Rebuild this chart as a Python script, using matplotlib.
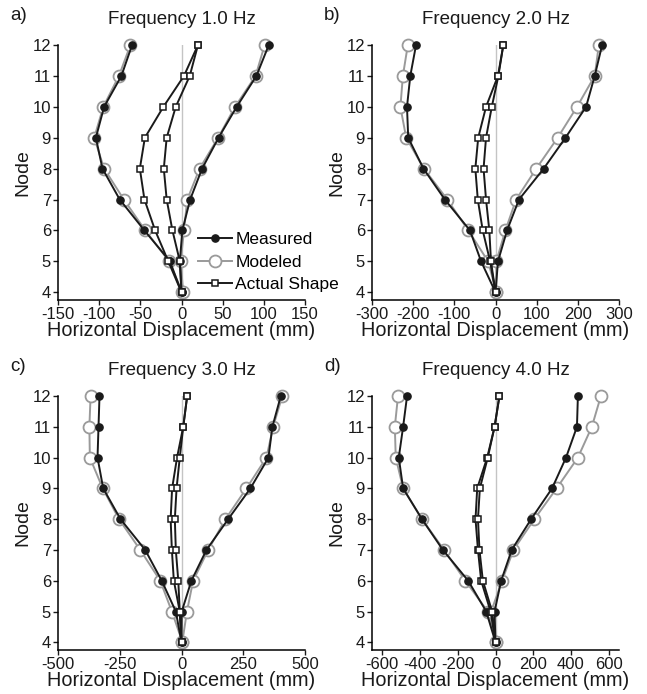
import numpy as np
import matplotlib.pyplot as plt
from matplotlib.lines import Line2D

plt.rcParams['font.family'] = ['Liberation Sans', 'DejaVu Sans']
plt.rcParams['axes.unicode_minus'] = False

# nodes from bottom (4) to top (12)
nodes = [4, 5, 6, 7, 8, 9, 10, 11, 12]

titles = ["Frequency 1.0 Hz", "Frequency 2.0 Hz", "Frequency 3.0 Hz", "Frequency 4.0 Hz"]
letters = ["a)", "b)", "c)", "d)"]

# panel a (1.0 Hz)
meas_a_left = [0, -14, -45, -75, -96, -104, -94, -73, -60]
mod_a_left = [1, -15, -44, -70, -94, -106, -95, -76, -62]
meas_a_right = [0, -2, 1, 10.5, 25, 45, 67, 91, 106]
mod_a_right = [2, -1, 3, 7, 22, 44.5, 65, 90, 101]
act_a_1 = [0, -16, -32, -45, -50.6, -44.5, -22, 3, 20]
act_a_2 = [0, -2, -11, -18, -21.5, -18, -7, 10, 20]

# panel b (2.0 Hz)
meas_b_left = [0, -35, -62, -123, -175, -212, -215, -207, -193]
mod_b_left = [2, -18, -66, -117, -174, -217, -231, -225, -213]
meas_b_right = [0, 6, 28, 57, 117, 170, 220, 241, 259]
mod_b_right = [2, 2, 24, 50, 99, 151, 198, 241, 251]
act_b_1 = [0, -13, -31, -43, -49, -42, -23, 6, 19]
act_b_2 = [0, -11, -15, -23, -29, -23, -9, 7, 19]

# panel c (3.0 Hz)
meas_c_left = [0, -23, -80, -147, -247, -317, -340, -336, -332]
mod_c_left = [4, -39, -86, -167, -253, -319, -371, -373, -368]
meas_c_right = [0, 1, 40, 101, 189, 279, 352, 368, 402]
mod_c_right = [3, 22, 47, 108, 178, 263, 344, 371, 408]
act_c_1 = [0, -7, -31, -39, -44, -38, -18, 7, 23]
act_c_2 = [0, -7, -13, -23, -27, -20, -7, 7, 23]

# panel d (4.0 Hz)
meas_d_left = [0, -49, -145, -279, -390, -490, -513, -490, -469]
mod_d_left = [3, -41, -160, -273, -390, -490, -529, -534, -517]
meas_d_right = [0, -5, 30, 86, 189, 300, 374, 432, 437]
mod_d_right = [3, -23, 35, 95, 206, 324, 437, 511, 559]
act_d_1 = [0, -26, -76, -93, -106, -97, -44, -5, 21]
act_d_2 = [0, -18, -67, -85, -93, -83, -41, -5, 21]

panels = [
    (meas_a_left, meas_a_right, mod_a_left, mod_a_right, act_a_1, act_a_2),
    (meas_b_left, meas_b_right, mod_b_left, mod_b_right, act_b_1, act_b_2),
    (meas_c_left, meas_c_right, mod_c_left, mod_c_right, act_c_1, act_c_2),
    (meas_d_left, meas_d_right, mod_d_left, mod_d_right, act_d_1, act_d_2),
]

xticks = [
    [-150, -100, -50, 0, 50, 100, 150],
    [-300, -200, -100, 0, 100, 200, 300],
    [-500, -250, 0, 250, 500],
    [-600, -400, -200, 0, 200, 400, 600],
]
xlims = [(-150, 150), (-300, 300), (-500, 500), (-655, 655)]

W, H = 647, 694
fig = plt.figure(figsize=(W / 100, H / 100), dpi=100)

# axes boxes in pixels: left, top, right, bottom
boxes = [(58, 45, 305, 300), (372, 45, 619, 300),
         (58, 396, 305, 650), (372, 396, 619, 650)]

blk = '#1a1a1a'
gry = '#9a9a9a'

for i, (box, data) in enumerate(zip(boxes, panels)):
    l, t, r, b = box
    ax = fig.add_axes([l / W, 1 - b / H, (r - l) / W, (b - t) / H])
    meas_l, meas_r, mod_l, mod_r, act1, act2 = data

    ax.plot([0, 0], [4, 12], color='#c4c4c4', lw=1.0, zorder=1)

    for m in (mod_l, mod_r):
        ax.plot(m, nodes, color=gry, lw=1.4, marker='o', ms=8.6,
                mfc='white', mec=gry, mew=1.3, zorder=2, clip_on=False)
    for m in (meas_l, meas_r):
        ax.plot(m, nodes, color=blk, lw=1.4, marker='o', ms=5.2,
                mfc=blk, mec=blk, zorder=3, clip_on=False)
    for a in (act1, act2):
        ax.plot(a, nodes, color=blk, lw=1.4, marker='s', ms=4.6,
                mfc='white', mec=blk, mew=1.1, zorder=4, clip_on=False)

    ax.set_xlim(*xlims[i])
    ax.set_ylim(3.75, 12)
    ax.set_xticks(xticks[i])
    ax.set_yticks(nodes)
    ax.spines['top'].set_visible(False)
    ax.spines['right'].set_visible(False)
    ax.spines['left'].set_linewidth(1.1)
    ax.spines['bottom'].set_linewidth(1.1)
    ax.tick_params(direction='out', length=3.5, width=1.0, labelsize=12,
                   pad=1.5, colors='#1a1a1a')
    ax.set_xlabel("Horizontal Displacement (mm)", fontsize=14.3, labelpad=-1,
                  color='#1a1a1a')
    ax.set_ylabel("Node", fontsize=14, labelpad=1, color='#1a1a1a')
    ax.set_title(titles[i], fontsize=13.5, pad=15, color='#1a1a1a')

    fig.text((l - 48) / W, 1 - (t - 29) / H, letters[i], fontsize=13.5,
             ha='left', va='center', color='#1a1a1a')

    if i == 0:
        handles = [
            Line2D([], [], color=blk, lw=1.4, marker='o', ms=5.2, mfc=blk, mec=blk),
            Line2D([], [], color=gry, lw=1.4, marker='o', ms=8.6, mfc='white', mec=gry, mew=1.3),
            Line2D([], [], color=blk, lw=1.4, marker='s', ms=4.6, mfc='white', mec=blk, mew=1.1),
        ]
        ax.legend(handles, ["Measured", "Modeled", "Actual Shape"],
                  loc='upper left', bbox_to_anchor=(198 / W, 1 - 232 / H),
                  bbox_transform=fig.transFigure,
                  frameon=False, fontsize=12.5, handlelength=1.95,
                  handletextpad=0.2, labelspacing=0.42, borderaxespad=0,
                  borderpad=0)

fig.savefig('out.png', dpi=100)
